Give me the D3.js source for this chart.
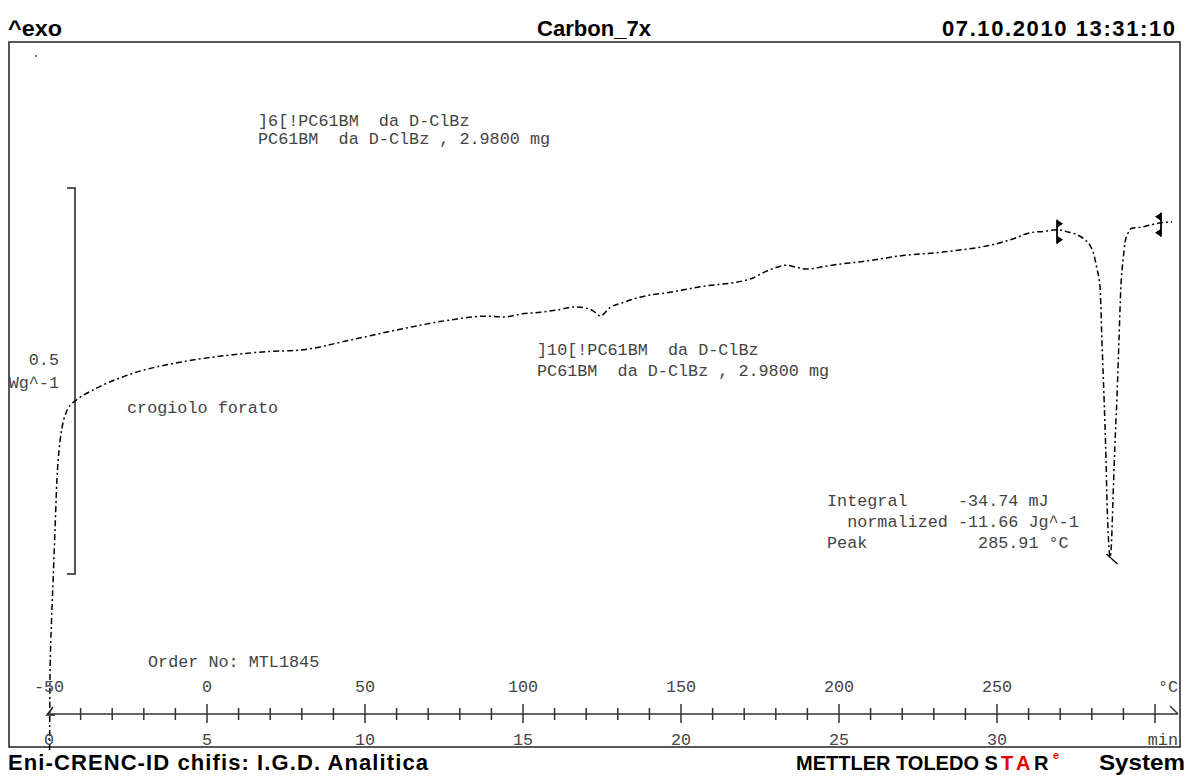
<!DOCTYPE html>
<html>
<head>
<meta charset="utf-8">
<script src="https://cdn.jsdelivr.net/npm/d3@7"></script>
<style>
  html, body { margin: 0; padding: 0; background: #fff; }
  svg { display: block; }
  .mono { font-family: "Liberation Mono", "DejaVu Sans Mono", monospace; font-size: 16.8px; fill: #444; white-space: pre; }
  .bold { font-family: "Liberation Sans", Arial, sans-serif; font-weight: bold; font-size: 22px; fill: #000; }
</style>
</head>
<body>
<svg id="chart" width="1187" height="779"></svg>
<script>
// ---- data ----
const temps = [-49.8, -49.7, -49.2, -48.7, -48.1, -47.5, -46.8, -45.9, -44.6, -43.0, -41.5,
  -34.8, -23.4, -7.6, 8.2, 18.7, 29.4, 45.3, 61.1, 76.9, 88.0, 94.0, 99.7, 105.4, 110.8, 116.5,
  121.2, 122.8, 124.4, 127.5, 132.0, 136.4, 146.5, 156.0, 171.8, 176.9, 180.1, 183.2, 186.7,
  189.9, 194.9, 201.3, 206.0, 219.3, 235.1, 251.0, 255.7, 260.4, 265.2, 269.0, 272.5, 275.6,
  277.8, 279.4, 280.7, 281.6, 282.6, 283.2, 283.9, 284.5, 284.8, 285.3, 285.8, 286.2, 286.7,
  287.3, 288.0, 288.6, 289.2, 289.9, 290.5, 291.5, 292.7, 295.3, 298.4, 301.9, 305.4];
const heatFlow = [-0.228, -0.137, -0.060, -0.008, 0.057, 0.122, 0.161, 0.189, 0.209, 0.220, 0.225,
  0.241, 0.260, 0.275, 0.284, 0.288, 0.290, 0.303, 0.317, 0.329, 0.334, 0.333, 0.337, 0.339, 0.342, 0.346,
  0.343, 0.339, 0.334, 0.345, 0.352, 0.358, 0.365, 0.372, 0.382, 0.392, 0.397, 0.400, 0.397,
  0.395, 0.398, 0.402, 0.404, 0.412, 0.418, 0.429, 0.435, 0.442, 0.444, 0.446, 0.443, 0.439,
  0.433, 0.426, 0.413, 0.396, 0.372, 0.303, 0.225, 0.148, 0.096, 0.044, 0.022, 0.038, 0.096,
  0.165, 0.233, 0.303, 0.372, 0.407, 0.429, 0.442, 0.448, 0.449, 0.452, 0.455, 0.456];

const tempMajor = [-50, 0, 50, 100, 150, 200, 250, 300];
const tempMinor = d3.range(-40, 300, 10).filter(t => t % 50 !== 0);
const tempLabels = [-50, 0, 50, 100, 150, 200, 250];
const minuteLabels = [0, 5, 10, 15, 20, 25, 30];
const scaleBar = [0, 0.5];
const evalStart = 269.0, evalEnd = 301.9, peakT = 285.9;

// ---- scales ----
const svg = d3.select("#chart");
const x = d3.scaleLinear().domain([-50, 300]).range([49, 1155]);
const xt = d3.scaleLinear().domain([0, 35]).range([49, 1155]);
const y = d3.scaleLinear().domain([0, 0.5]).range([574, 188]);

svg.append("rect").attr("width", 1187).attr("height", 779).attr("fill", "#fff");

// frame
svg.append("rect").attr("x", 9).attr("y", 42).attr("width", 1171).attr("height", 705)
  .attr("fill", "none").attr("stroke", "#222").attr("stroke-width", 1.5);

// header
svg.append("text").attr("class", "bold").attr("x", 8).attr("y", 36).attr("textLength", 54).attr("lengthAdjust", "spacingAndGlyphs").text("^exo");
svg.append("text").attr("class", "bold").attr("x", 537).attr("y", 36).attr("textLength", 114).attr("lengthAdjust", "spacingAndGlyphs").text("Carbon_7x");
svg.append("text").attr("class", "bold").attr("x", 942).attr("y", 36).attr("textLength", 233).attr("lengthAdjust", "spacing").text("07.10.2010 13:31:10");

// footer
svg.append("text").attr("class", "bold").attr("x", 8).attr("y", 770).attr("textLength", 420).attr("lengthAdjust", "spacing").text("Eni-CRENC-ID chifis: I.G.D. Analitica");
const ft = svg.append("text").attr("class", "bold").attr("y", 770).style("font-size", "20px");
ft.append("tspan").attr("x", 796).text("METTLER TOLEDO S");
ft.append("tspan").attr("x", 1001).style("fill", "#e60000").text("T");
ft.append("tspan").attr("x", 1016).style("fill", "#e60000").text("A");
ft.append("tspan").attr("x", 1034).text("R");
svg.append("text").attr("class", "bold").attr("x", 1053).attr("y", 759).style("font-size", "11px").style("fill", "#e60000").text("e");
svg.append("text").attr("class", "bold").attr("x", 1099).attr("y", 770).attr("textLength", 86).attr("lengthAdjust", "spacingAndGlyphs").text("System");

// small dot
svg.append("circle").attr("cx", 36).attr("cy", 56).attr("r", 0.9).attr("fill", "#333");

// scale bar
svg.append("path")
  .attr("d", `M67,${y(scaleBar[1])} H75 V${y(scaleBar[0])} H67`)
  .attr("fill", "none").attr("stroke", "#222").attr("stroke-width", 1.5);
svg.append("text").attr("class", "mono").attr("x", 59).attr("y", 365).attr("text-anchor", "end").text(String(scaleBar[1]));
svg.append("text").attr("class", "mono").attr("x", 59).attr("y", 388).attr("text-anchor", "end").text("Wg^-1");

// curve
const line = d3.line().x(d => x(d[0])).y(d => y(d[1])).curve(d3.curveMonotoneX);
svg.append("path").datum(temps.map((t, i) => [t, heatFlow[i]]))
  .attr("d", line).attr("fill", "none").attr("stroke", "#000").attr("stroke-width", 1.5)
  .attr("stroke-dasharray", "6,3,2,3");

// evaluation limit markers
function hfAt(t) {
  const i = d3.bisectLeft(temps, t);
  const i0 = Math.max(0, i - 1), i1 = Math.min(temps.length - 1, i);
  if (i0 === i1) return heatFlow[i0];
  const f = (t - temps[i0]) / (temps[i1] - temps[i0]);
  return heatFlow[i0] + f * (heatFlow[i1] - heatFlow[i0]);
}
function limitMarker(t, dir) {
  const cx = x(t), cy = y(hfAt(t));
  const g = svg.append("g");
  g.append("line").attr("x1", cx).attr("x2", cx).attr("y1", cy - 10).attr("y2", cy + 14)
    .attr("stroke", "#000").attr("stroke-width", 1.8);
  g.append("path").attr("d", `M${cx},${cy - 10} L${cx + 6 * dir},${cy - 6} L${cx},${cy - 2} Z`).attr("fill", "#000");
  g.append("path").attr("d", `M${cx},${cy + 6} L${cx + 6 * dir},${cy + 10} L${cx},${cy + 14} Z`).attr("fill", "#000");
}
limitMarker(evalStart, 1);
limitMarker(evalEnd, -1);

// peak marker
{
  const px = x(peakT), py = y(hfAt(peakT));
  svg.append("line").attr("x1", px - 4).attr("y1", py).attr("x2", px + 7).attr("y2", py + 10)
    .attr("stroke", "#000").attr("stroke-width", 1.4);
}

// annotations
const ann = [
  [258, 126, "]6[!PC61BM  da D-ClBz"],
  [258, 144, "PC61BM  da D-ClBz , 2.9800 mg"],
  [537, 355, "]10[!PC61BM  da D-ClBz"],
  [537, 376, "PC61BM  da D-ClBz , 2.9800 mg"],
  [127, 413, "crogiolo forato"],
  [827, 506, "Integral     -34.74 mJ"],
  [827, 527, "  normalized -11.66 Jg^-1"],
  [827, 548, "Peak           285.91 °C"],
  [148, 667, "Order No: MTL1845"]
];
ann.forEach(a => svg.append("text").attr("class", "mono").attr("x", a[0]).attr("y", a[1]).text(a[2]));

// axis
const axY = 714;
svg.append("line").attr("x1", 47).attr("x2", 1178).attr("y1", axY).attr("y2", axY)
  .attr("stroke", "#333").attr("stroke-width", 1.5);
svg.selectAll(".tmaj").data(tempMajor.filter(t => t > -50)).enter().append("line")
  .attr("x1", d => x(d)).attr("x2", d => x(d)).attr("y1", axY - 10).attr("y2", axY + 9)
  .attr("stroke", "#333").attr("stroke-width", 1.5);
svg.selectAll(".tmin").data(tempMinor).enter().append("line")
  .attr("x1", d => x(d)).attr("x2", d => x(d)).attr("y1", axY - 6).attr("y2", axY + 6)
  .attr("stroke", "#333").attr("stroke-width", 1.5);
svg.append("path").attr("d", `M1170,${axY - 8} L1178,${axY}`).attr("stroke", "#333").attr("stroke-width", 1.5).attr("fill", "none");
svg.append("path").attr("d", `M55,${axY + 1} H47 L53,${axY - 7}`).attr("stroke", "#222").attr("stroke-width", 1.5).attr("fill", "none");

svg.selectAll(".tl").data(tempLabels).enter().append("text").attr("class", "mono")
  .attr("x", d => x(d)).attr("y", 692).attr("text-anchor", "middle").text(d => String(d));
svg.append("text").attr("class", "mono").attr("x", 1168).attr("y", 692).attr("text-anchor", "middle").text("°C");
svg.selectAll(".ml").data(minuteLabels).enter().append("text").attr("class", "mono")
  .attr("x", d => xt(d)).attr("y", 745).attr("text-anchor", "middle").text(d => String(d));
svg.append("text").attr("class", "mono").attr("x", 1178).attr("y", 745).attr("text-anchor", "end").text("min");
</script>
</body>
</html>
